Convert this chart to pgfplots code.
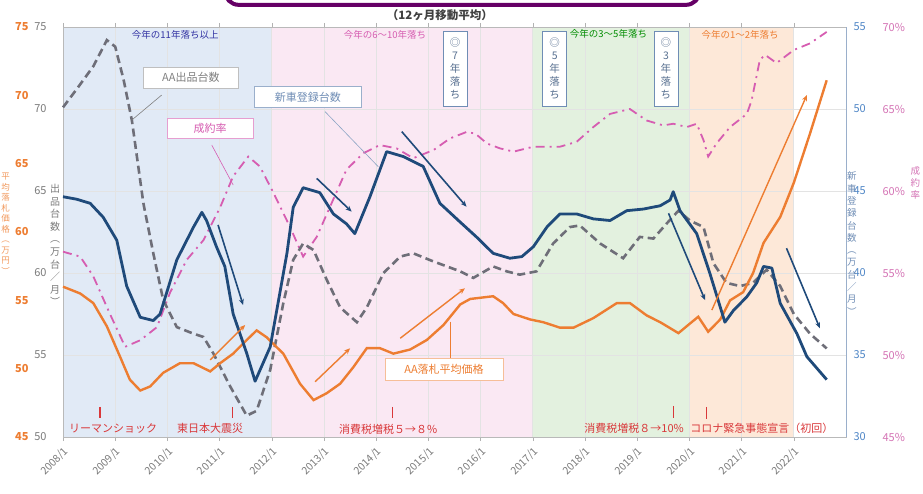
\documentclass[border=0pt]{standalone}
\usepackage{pgfplots}
\pgfplotsset{compat=1.18}
\usepackage{fontspec}
\setmainfont{Noto Sans CJK JP}
\usetikzlibrary{arrows.meta}

\definecolor{cNavy}{HTML}{1F4A7A}
\definecolor{cGrey}{HTML}{6E6E78}
\definecolor{cPink}{HTML}{D65DB1}
\definecolor{cOrange}{HTML}{ED7D31}
\definecolor{bBlue}{HTML}{E1EAF6}
\definecolor{bPink}{HTML}{FAE8F3}
\definecolor{bGreen}{HTML}{E3F1DF}
\definecolor{bOrange}{HTML}{FDE8D8}
\definecolor{cRed}{HTML}{D9383A}
\definecolor{cTick}{HTML}{7A7A7A}
\definecolor{cBlueLab}{HTML}{4F86C6}
\definecolor{cPinkLab}{HTML}{D474B5}
\definecolor{cBoxBlue}{HTML}{6F8DB5}

\pgfplotsset{
  base/.style={at={(63pt,56pt)}, anchor=south west, scale only axis,
    width=783pt, height=410pt, xmin=2008, xmax=2023, clip=false},
  tickfont/.style={font=\fontsize{11}{13}\selectfont},
}

\newcommand{\agebox}[2]{\node[draw=cBoxBlue, fill=white, line width=0.8pt, text=cBoxBlue!80!black,
  align=center, inner sep=2pt, minimum width=24pt, minimum height=75pt,
  font=\fontsize{10.5}{13}\selectfont] at (axis cs:#1,72.45) {◎\\#2\\年\\落\\ち};}

\begin{document}
\begin{tikzpicture}
\useasboundingbox (0,0) rectangle (923pt,493pt);

% ---- background bands, grid, grey scale and dates
\begin{axis}[base, ymin=50, ymax=75, axis on top,
  xtick={2008,...,2022},
  xticklabels={2008/1,2009/1,2010/1,2011/1,2012/1,2013/1,2014/1,2015/1,2016/1,2017/1,2018/1,2019/1,2020/1,2021/1,2022/1},
  xticklabel style={rotate=45, anchor=north east, text=cTick, font=\fontsize{10.5}{12}\selectfont},
  ytick={50,55,...,75}, yticklabels={50,55,60,65,70,75},
  yticklabel style={text=cTick, tickfont, xshift=-9pt},
  grid=major, grid style={draw=gray!22, line width=0.6pt},
  axis line style={draw=gray!55, line width=0.8pt},
  tick align=outside, major tick length=4pt,
  xtick style={draw=gray!60}, ytick style={draw=none}]
\fill[bBlue] (axis cs:2008,50) rectangle (axis cs:2012,75);
\fill[bPink] (axis cs:2012,50) rectangle (axis cs:2017,75);
\fill[bGreen] (axis cs:2017,50) rectangle (axis cs:2020,75);
\fill[bOrange] (axis cs:2020,50) rectangle (axis cs:2022,75);
\end{axis}

% ---- 成約率 (right outer scale)
\begin{axis}[base, ymin=45, ymax=70, hide x axis, axis y line*=right,
  y axis line style={draw=none}, major tick length=0pt,
  ytick={45,50,...,70}, yticklabels={45\%,50\%,55\%,60\%,65\%,70\%},
  yticklabel style={text=cPinkLab, tickfont, xshift=33pt}]
\addplot[cPink, line width=1.8pt, dash pattern=on 9pt off 5pt on 2pt off 5pt] coordinates {
(2008.0,56.3)(2008.33,56.0)(2008.58,54.8)(2008.90,52.5)(2009.19,50.5)(2009.48,50.9)
(2009.80,51.7)(2010.05,53.8)(2010.37,55.8)(2010.69,57.0)(2011.01,59.0)(2011.26,60.9)
(2011.55,62.1)(2011.77,61.5)(2012.03,59.9)(2012.35,57.8)(2012.60,56.0)(2012.86,57.2)
(2013.11,59.0)(2013.43,61.3)(2013.75,62.3)(2014.07,62.8)(2014.39,62.6)(2014.71,62.0)
(2015.10,62.5)(2015.41,63.2)(2015.73,63.6)(2015.90,63.5)(2016.12,62.9)(2016.37,62.6)
(2016.63,62.4)(2017.01,62.7)(2017.52,62.7)(2017.84,63.0)(2018.16,63.9)(2018.48,64.7)
(2018.86,65.0)(2019.18,64.3)(2019.50,64.0)(2019.69,64.1)(2019.95,63.9)(2020.14,64.1)
(2020.27,63.1)(2020.36,62.1)(2020.52,62.9)(2020.78,63.9)(2021.10,64.7)(2021.19,65.5)
(2021.35,68.0)(2021.45,68.3)(2021.67,67.8)(2022.0,68.6)(2022.31,69.0)(2022.63,69.7)};
\end{axis}

% ---- AA出品台数 (grey scale)
\begin{axis}[base, ymin=50, ymax=75, hide axis]
\addplot[cGrey, line width=2.6pt, dash pattern=on 8pt off 4.5pt] coordinates {
(2008.0,70.1)(2008.26,71.2)(2008.58,72.6)(2008.84,74.2)(2009.0,73.8)(2009.16,71.8)
(2009.32,69.3)(2009.54,64.25)(2009.73,61.2)(2009.92,58.35)(2010.18,56.7)(2010.50,56.3)
(2010.69,56.1)(2010.88,55.1)(2011.20,53.1)(2011.52,51.3)(2011.71,51.6)(2011.97,54.1)
(2012.22,58.15)(2012.41,60.8)(2012.60,61.8)(2012.80,61.4)(2013.05,59.6)(2013.31,57.9)
(2013.63,57.0)(2013.82,57.9)(2014.14,60.0)(2014.46,61.0)(2014.71,61.2)(2015.10,60.7)
(2015.61,60.1)(2015.86,59.7)(2016.24,60.4)(2016.50,60.1)(2016.75,59.9)(2017.07,60.1)
(2017.39,61.8)(2017.71,62.8)(2017.90,62.9)(2018.29,61.8)(2018.73,60.9)(2019.05,62.2)
(2019.31,62.1)(2019.56,63.0)(2019.79,63.8)(2020.01,63.2)(2020.27,62.8)(2020.46,60.6)
(2020.71,59.4)(2020.97,59.2)(2021.22,59.4)(2021.48,60.2)(2021.74,59.2)(2022.0,57.5)
(2022.31,56.3)(2022.63,55.4)};
\end{axis}

% ---- AA落札平均価格 (left outer scale)
\begin{axis}[base, ymin=45, ymax=75, hide x axis, axis y line*=left,
  y axis line style={draw=none}, major tick length=0pt,
  ytick={45,50,...,75}, yticklabels={45,50,55,60,65,70,75},
  yticklabel style={text=cOrange, tickfont, font=\bfseries\fontsize{11}{13}\selectfont, xshift=-31pt}]
\addplot[cOrange, line width=2.4pt] coordinates {
(2008.0,56.0)(2008.33,55.5)(2008.58,54.8)(2008.84,53.1)(2009.09,50.9)(2009.28,49.2)
(2009.48,48.4)(2009.67,48.7)(2009.92,49.7)(2010.24,50.4)(2010.50,50.4)(2010.82,49.8)
(2011.01,50.4)(2011.26,51.1)(2011.52,52.1)(2011.71,52.8)(2011.90,52.3)(2012.22,51.1)
(2012.54,48.9)(2012.80,47.7)(2013.05,48.2)(2013.31,48.9)(2013.56,50.1)(2013.82,51.5)
(2014.07,51.5)(2014.33,51.1)(2014.65,51.4)(2014.97,52.1)(2015.29,53.2)(2015.61,54.7)
(2015.80,55.1)(2016.24,55.3)(2016.43,54.8)(2016.63,54.0)(2016.95,53.6)(2017.20,53.4)
(2017.52,53.0)(2017.78,53.0)(2018.16,53.7)(2018.61,54.8)(2018.86,54.8)(2019.18,53.9)
(2019.44,53.4)(2019.79,52.6)(2020.01,53.3)(2020.17,53.8)(2020.36,52.7)(2020.59,53.6)
(2020.78,55.0)(2021.03,55.6)(2021.22,57.0)(2021.42,59.2)(2021.74,61.1)(2022.0,63.6)
(2022.31,67.2)(2022.63,71.1)};
\end{axis}

% ---- 新車登録台数 (right scale)
\begin{axis}[base, ymin=30, ymax=55, hide x axis, axis y line*=right,
  y axis line style={draw=cBoxBlue!70, line width=0.8pt}, major tick length=0pt,
  ytick={30,35,...,55}, yticklabels={30,35,40,45,50,55},
  yticklabel style={text=cBlueLab, tickfont, xshift=4pt}]
\addplot[cNavy, line width=2.8pt, line join=round] coordinates {
(2008.0,44.65)(2008.26,44.5)(2008.52,44.25)(2008.77,43.4)(2009.03,42.0)(2009.22,39.2)
(2009.48,37.3)(2009.73,37.1)(2009.86,37.5)(2010.18,40.8)(2010.50,42.8)(2010.66,43.7)
(2010.75,43.2)(2010.94,41.6)(2011.10,40.4)(2011.26,37.5)(2011.52,35.1)(2011.68,33.4)
(2011.97,35.5)(2012.29,41.2)(2012.41,44.0)(2012.60,45.2)(2012.92,44.9)(2013.18,43.6)
(2013.43,43.0)(2013.59,42.4)(2013.88,44.65)(2014.20,47.4)(2014.52,47.1)(2014.90,46.5)
(2015.22,44.25)(2015.61,43.1)(2015.92,42.2)(2016.24,41.2)(2016.56,40.9)(2016.79,41.0)
(2017.01,41.6)(2017.27,42.8)(2017.52,43.6)(2017.84,43.6)(2018.16,43.3)(2018.48,43.2)
(2018.80,43.8)(2019.12,43.9)(2019.44,44.1)(2019.63,44.45)(2019.69,44.96)(2019.82,43.8)
(2020.14,42.4)(2020.39,40.0)(2020.68,37.0)(2020.84,37.7)(2021.10,38.55)(2021.29,39.4)
(2021.42,40.4)(2021.58,40.3)(2021.74,38.15)(2022.06,36.3)(2022.25,34.9)(2022.63,33.5)};
\end{axis}

% ---- annotations (grey scale coordinates)
\begin{axis}[base, ymin=50, ymax=75, hide axis]
% header frame and title
\draw[line width=4pt, draw=violet!80!black, fill=white, rounded corners=14pt]
  (axis cs:2011.10,78.6) rectangle (axis cs:2020.20,76.35);
\node[font=\bfseries\fontsize{11.5}{13}\selectfont, text=black!75] at (axis cs:2015.22,75.73) {（12ヶ月移動平均）};
% band captions
\node[font=\fontsize{9.5}{11}\selectfont, text=blue!55!black!80] at (axis cs:2010.15,74.5) {今年の11年落ち以上};
\node[font=\fontsize{9.5}{11}\selectfont, text=cPink] at (axis cs:2014.17,74.5) {今年の6～10年落ち};
\node[font=\fontsize{9.5}{11}\selectfont, text=green!55!black] at (axis cs:2018.45,74.6) {今年の3～5年落ち};
\node[font=\fontsize{9.5}{11}\selectfont, text=cOrange] at (axis cs:2020.97,74.5) {今年の1～2年落ち};
% vertical boxes
\agebox{2015.51}{7}
\agebox{2017.42}{5}
\agebox{2019.55}{3}
% trend arrows
\begin{scope}[cNavy, line width=1.6pt, -{Stealth[length=6pt,width=5pt]}]
\draw (axis cs:2010.97,62.93) -- (axis cs:2011.45,58.05);
\draw (axis cs:2012.86,65.77) -- (axis cs:2013.53,63.74);
\draw (axis cs:2014.49,68.62) -- (axis cs:2015.73,64.04);
\draw (axis cs:2019.60,63.64) -- (axis cs:2020.30,58.35);
\draw (axis cs:2021.86,61.51) -- (axis cs:2022.50,56.63);
\end{scope}
\begin{scope}[cOrange, line width=1.4pt, -{Stealth[length=6pt,width=5pt]}]
\draw (axis cs:2010.82,54.70) -- (axis cs:2011.49,56.83);
\draw (axis cs:2012.83,53.37) -- (axis cs:2013.50,55.41);
\draw (axis cs:2014.46,56.02) -- (axis cs:2015.70,59.07);
\draw (axis cs:2020.43,57.74) -- (axis cs:2022.25,70.85);
\end{scope}
% series labels
\draw[gray, line width=0.6pt] (axis cs:2009.89,70.85) -- (axis cs:2009.32,69.33);
\node[draw=gray!50, fill=white, text=gray, minimum width=95pt, minimum height=21pt,
  font=\fontsize{11}{13}\selectfont] at (axis cs:2010.45,71.92) {AA出品台数};
\draw[cPink, line width=0.6pt] (axis cs:2010.85,67.80) -- (axis cs:2011.26,65.37);
\node[draw=cPink!60, fill=white, text=cPink, minimum width=86pt, minimum height=20pt,
  font=\fontsize{11}{13}\selectfont] at (axis cs:2010.82,68.84) {成約率};
\draw[cBoxBlue!80, line width=0.6pt] (axis cs:2013.02,69.84) -- (axis cs:2014.04,66.48);
\node[draw=cBoxBlue!70, fill=white, text=cBoxBlue, minimum width=107pt, minimum height=21pt,
  font=\fontsize{11}{13}\selectfont] at (axis cs:2012.69,70.73) {新車登録台数};
\draw[cOrange, line width=0.6pt] (axis cs:2015.41,57.03) -- (axis cs:2015.41,54.82);
\node[draw=cOrange!50, fill=white, text=cOrange, minimum width=118pt, minimum height=22pt,
  font=\fontsize{11}{13}\selectfont] at (axis cs:2015.30,54.15) {AA落札平均価格};
% events
\begin{scope}[cRed, line width=1.2pt]
\draw (axis cs:2008.71,51.83) -- (axis cs:2008.71,51.16);
\draw (axis cs:2011.24,51.83) -- (axis cs:2011.24,51.16);
\draw (axis cs:2014.31,51.83) -- (axis cs:2014.31,51.16);
\draw (axis cs:2019.69,51.90) -- (axis cs:2019.69,51.16);
\draw (axis cs:2020.33,51.83) -- (axis cs:2020.33,51.10);
\end{scope}
\begin{scope}[every node/.style={text=cRed, font=\fontsize{11}{13}\selectfont}]
\node at (axis cs:2008.96,50.55) {リーマンショック};
\node at (axis cs:2010.82,50.55) {東日本大震災};
\node at (axis cs:2014.23,50.45) {消費税増税５→８\%};
\node at (axis cs:2018.94,50.55) {消費税増税８→10\%};
\node at (axis cs:2021.39,50.55) {コロナ緊急事態宣言（初回）};
\end{scope}
% axis titles (vertical)
\node[text=cTick, align=center, font=\fontsize{10}{12.6}\selectfont] at (axis cs:2007.85,61.7)
  {出\\品\\台\\数\\︵\\万\\台\\／\\月\\︶};
\node[text=cOrange!80, align=center, inner sep=0pt, font=\fontsize{8.5}{10.5}\selectfont] at (axis cs:2006.90,63.0)
  {平\\均\\落\\札\\価\\格\\︵\\万\\円\\︶};
\node[text=cBoxBlue, align=center, font=\fontsize{9.5}{12.3}\selectfont] at (axis cs:2023.11,61.8)
  {新\\車\\登\\録\\台\\数\\︵\\万\\台\\／\\月\\︶};
\node[text=cPinkLab, align=center, inner sep=0pt, font=\fontsize{9.5}{12}\selectfont] at (axis cs:2024.33,65.5)
  {成\\約\\率};
\end{axis}
\end{tikzpicture}
\end{document}
